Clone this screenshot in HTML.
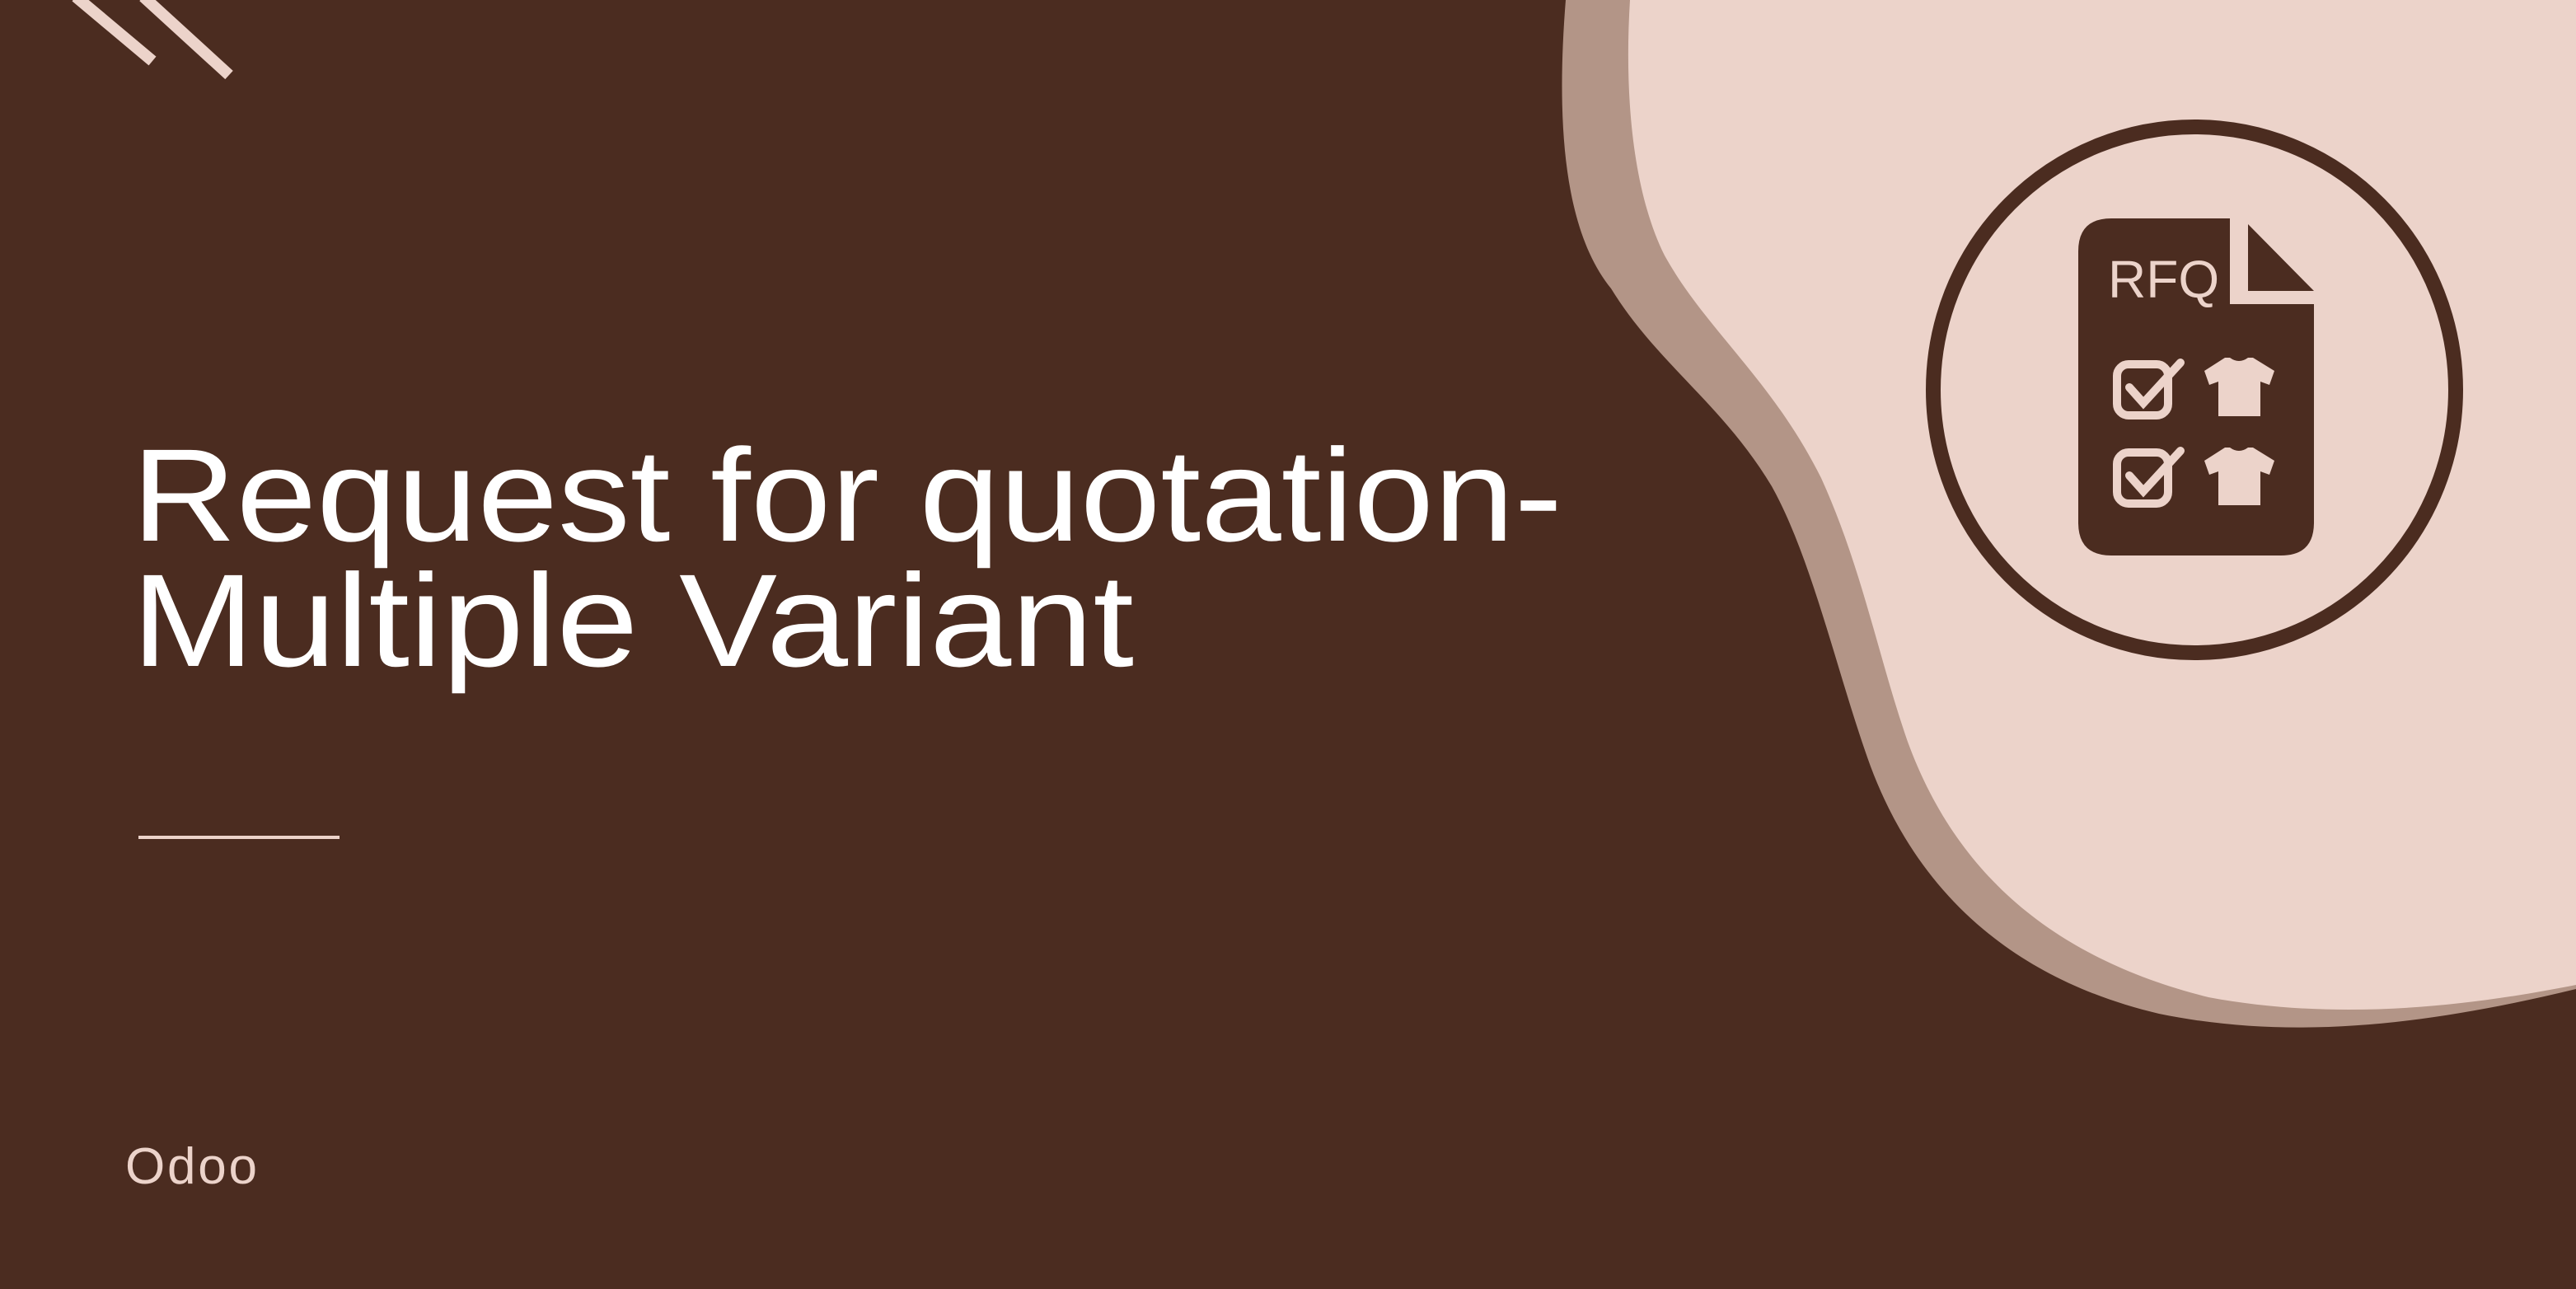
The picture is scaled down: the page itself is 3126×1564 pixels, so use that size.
<!DOCTYPE html>
<html><head><meta charset="utf-8"><style>
html,body{margin:0;padding:0;background:#4b2c20;}
svg{display:block}
</style></head><body>
<svg width="3126" height="1564" viewBox="0 0 3126 1564" xmlns="http://www.w3.org/2000/svg">
<rect width="3126" height="1564" fill="#4b2c20"/>
<line x1="92" y1="-4" x2="185" y2="74" stroke="#ecd3ca" stroke-width="14"/>
<line x1="174" y1="-4" x2="278" y2="91" stroke="#ecd3ca" stroke-width="14"/>
<path fill="#b39587" d="M1900,0 C1888,150 1898,280 1955,350 C2010,440 2090,490 2150,590 C2200,680 2230,820 2270,930 C2330,1090 2450,1190 2620,1230 C2790,1265 2960,1240 3126,1200 L3126,0 Z"/>
<path fill="#ecd3ca" d="M1978,0 C1970,130 1985,240 2020,310 C2070,400 2150,460 2210,580 C2260,690 2280,800 2315,900 C2370,1050 2480,1160 2680,1210 C2840,1240 3000,1220 3126,1195 L3126,0 Z"/>
<g>
<ellipse cx="2663" cy="473" rx="317" ry="319" fill="none" stroke="#4b2c20" stroke-width="18"/>
<path fill="#4b2c20" d="M2562,265 L2706,265 L2706,369 L2808,369 L2808,634 Q2808,674 2768,674 L2562,674 Q2522,674 2522,634 L2522,305 Q2522,265 2562,265 Z"/>
<path fill="#4b2c20" d="M2728,272 L2808,353 L2728,353 Z"/>
<text x="2558" y="361" font-family="Liberation Sans, sans-serif" font-size="64" fill="#ecd3ca">RFQ</text>
<g>
<rect x="2569" y="442" width="62" height="62" rx="14" fill="none" stroke="#ecd3ca" stroke-width="10"/>
<path d="M2584,470 L2601,489 L2646,440" fill="none" stroke="#ecd3ca" stroke-width="10" stroke-linecap="round"/>
</g>
<g>
<rect x="2569" y="549" width="62" height="62" rx="14" fill="none" stroke="#ecd3ca" stroke-width="10"/>
<path d="M2584,577 L2601,596 L2646,547" fill="none" stroke="#ecd3ca" stroke-width="10" stroke-linecap="round"/>
</g>
<path fill="#ecd3ca" d="M2700,434 L2706,434 Q2717,442 2728,434 L2734,434 L2760,450 L2754,467 L2743,463 L2743,505 L2692,505 L2692,463 L2681,467 L2675,450 Z"/>
<path fill="#ecd3ca" d="M2700,543 L2706,543 Q2717,551 2728,543 L2734,543 L2760,559 L2754,576 L2743,572 L2743,613 L2692,613 L2692,572 L2681,576 L2675,559 Z"/>
</g>
<text x="160" y="656" font-family="Liberation Sans, sans-serif" font-size="160" fill="#ffffff" textLength="1736" lengthAdjust="spacingAndGlyphs">Request for quotation-</text>
<text x="160" y="808" font-family="Liberation Sans, sans-serif" font-size="160" fill="#ffffff" textLength="1216" lengthAdjust="spacingAndGlyphs">Multiple Variant</text>
<rect x="168" y="1014" width="244" height="4" fill="#ecd3ca"/>
<text x="152" y="1436" font-family="Liberation Sans, sans-serif" font-size="62" fill="#ecd3ca" textLength="160">Odoo</text>
</svg>
</body></html>
